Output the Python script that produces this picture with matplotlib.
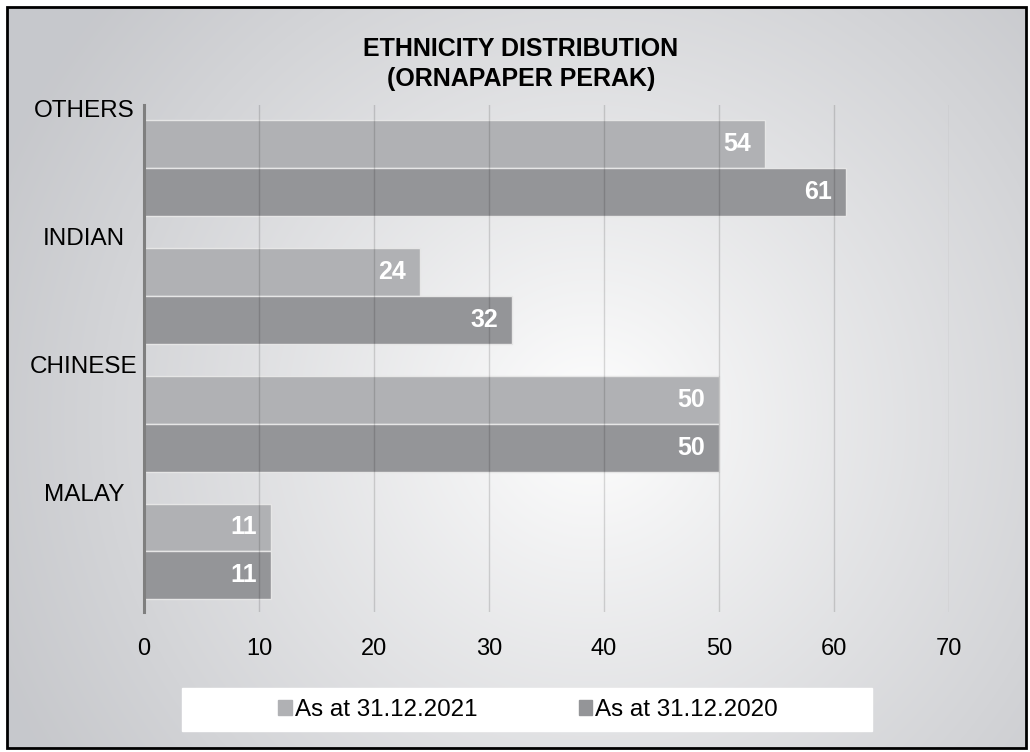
import numpy as np
import matplotlib
matplotlib.use("Agg")
import matplotlib.pyplot as plt
from matplotlib.patches import Rectangle, Patch

categories = ["MALAY", "CHINESE", "INDIAN", "OTHERS"]
values_2021 = [11, 50, 24, 54]
values_2020 = [11, 50, 32, 61]
series_names = ["As at 31.12.2021", "As at 31.12.2020"]
xticks = [0, 10, 20, 30, 40, 50, 60, 70]
title_lines = ["ETHNICITY DISTRIBUTION", "(ORNAPAPER PERAK)"]

plt.rcParams['font.family'] = ['Liberation Sans', 'DejaVu Sans']

W, H = 1030, 752
fig = plt.figure(figsize=(W / 100, H / 100), dpi=100)

# background radial gradient
bg = fig.add_axes([0, 0, 1, 1], zorder=-10)
yy, xx = np.mgrid[0:H, 0:W]
cx, cy = 590, 420
r = np.sqrt((xx - cx) ** 2 + (yy - cy) ** 2)
t = np.clip(r / 640.0, 0, 1) ** 0.9
c0 = np.array([1.0, 1.0, 1.0])
c1 = np.array([0.78, 0.785, 0.80])
img = c0[None, None, :] * (1 - t[..., None]) + c1[None, None, :] * t[..., None]
bg.imshow(img, extent=[0, W, H, 0], aspect='auto', interpolation='bilinear')
bg.set_xlim(0, W)
bg.set_ylim(H, 0)
bg.axis('off')
for rect in [Rectangle((0, 0), W, 7, color='white'), Rectangle((0, 0), 7, H, color='white'),
             Rectangle((0, H - 4), W, 4, color='white'), Rectangle((W - 4, 0), 4, H, color='white')]:
    bg.add_patch(rect)
bg.add_patch(Rectangle((7, 7), W - 11, H - 11, fill=False, edgecolor='black', linewidth=2))
bg.add_patch(Rectangle((182, 688), 690, 43, color='white'))

left, right = 144 / W, 949 / W
bottom, top = 1 - 612 / H, 1 - 105 / H
ax = fig.add_axes([left, bottom, right - left, top - bottom])
ax.set_facecolor('none')

y = np.arange(len(categories))
h = 0.375
col21 = '#b0b1b4'
col20 = '#949598'
b1 = ax.barh(y + h / 2, values_2021, height=h, color=col21, edgecolor='#e6e6e6', linewidth=1, zorder=2)
b2 = ax.barh(y - h / 2, values_2020, height=h, color=col20, edgecolor='#e6e6e6', linewidth=1, zorder=2)

for bars, vals in [(b1, values_2021), (b2, values_2020)]:
    for bar, v in zip(bars, vals):
        ax.annotate(str(v), (v, bar.get_y() + bar.get_height() / 2), xytext=(-10, 0),
                    textcoords='offset points', ha='right', va='center',
                    color='white', fontsize=18, fontweight='bold', zorder=4)

ax.set_xlim(0, 70)
ax.set_ylim(-0.473, 3.49)
ax.set_xticks(xticks)
ax.set_xticklabels([str(v) for v in xticks], fontsize=17)
ax.tick_params(axis='x', length=0, pad=19)
ax.set_yticks([])
for v in xticks[1:]:
    ax.axvline(v, color='black', alpha=0.14, linewidth=1, zorder=3)
for s in ['top', 'right', 'bottom']:
    ax.spines[s].set_visible(False)
ax.spines['left'].set_color('#7f7f7f')
ax.spines['left'].set_linewidth(2.2)
ax.spines['left'].set_zorder(5)

xt = ax.get_yaxis_transform()
for i, cat in enumerate(categories):
    ax.text(-0.0745, i + 0.445, cat, transform=xt, ha='center', va='center', fontsize=17.5, color='black')

fig.text(521 / W, 1 - 56 / H, title_lines[0], ha='center', va='baseline', fontsize=18, fontweight='bold')
fig.text(521 / W, 1 - 86 / H, title_lines[1], ha='center', va='baseline', fontsize=18, fontweight='bold')

handles = [Patch(color=col21), Patch(color=col20)]
fig.legend(handles, series_names, loc='center', bbox_to_anchor=(528 / W, 1 - 710 / H), ncol=2,
           frameon=False, fontsize=17.4, handlelength=0.55, handleheight=0.55, handletextpad=0.12,
           columnspacing=4.2, borderpad=0)

fig.savefig('out.png', dpi=100)
